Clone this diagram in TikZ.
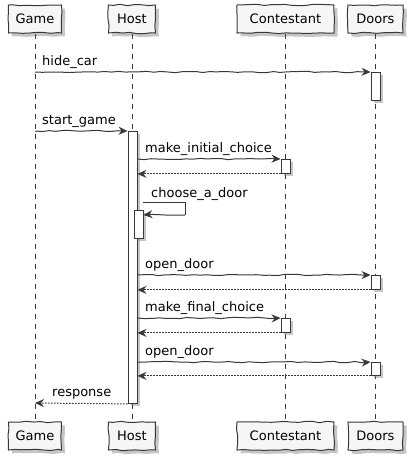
\documentclass[tikz,border=0pt]{standalone}
\usepackage{fontspec}
\setmainfont{DejaVu Sans}
\usetikzlibrary{arrows.meta,shadows,decorations.pathmorphing}
\definecolor{lc}{HTML}{383838}
\definecolor{boxfill}{HTML}{F6F6F6}
\pgfmathsetseed{7}
\begin{document}
\begin{tikzpicture}[x=1pt,y=-1pt,
  wob/.style={decorate, decoration={random steps, segment length=7pt, amplitude=0.7pt}},
  part/.style={draw=lc, fill=boxfill, line width=1pt, minimum height=28pt, inner sep=0pt,
    font=\fontsize{13}{15}\selectfont, wob,
    drop shadow={shadow xshift=3.5pt,shadow yshift=-3.5pt,opacity=0.45}},
  act/.style={draw=lc, fill=white, line width=0.9pt, minimum width=9pt, inner sep=0pt, anchor=north,
    drop shadow={shadow xshift=3pt,shadow yshift=-3pt,opacity=0.45}},
  life/.style={draw=lc, line width=0.8pt, dash pattern=on 5pt off 5pt},
  msg/.style={draw=lc, line width=1pt, wob, -{Stealth[length=9pt,width=8pt,inset=3pt]}},
  ret/.style={draw=lc, line width=1pt, dash pattern=on 1.5pt off 1.5pt, -{Stealth[length=9pt,width=8pt,inset=3pt]}},
  lbl/.style={font=\fontsize{13}{15}\selectfont, anchor=base west, inner sep=0pt, text=black}
]
\useasboundingbox (0,0) rectangle (415,464);

% participants
\node[part, minimum width=53] (gameT) at (35,19) {Game};
\node[part, minimum width=47] (hostT) at (132,19) {Host};
\node[part, minimum width=97] (contT) at (285.5,19) {Contestant};
\node[part, minimum width=55] (doorT) at (375.5,19) {Doors};
\node[part, minimum width=53] (gameB) at (35,436) {Game};
\node[part, minimum width=47] (hostB) at (132,436) {Host};
\node[part, minimum width=97] (contB) at (285.5,436) {Contestant};
\node[part, minimum width=55] (doorB) at (375.5,436) {Doors};

% lifelines
\draw[life] (gameT.south) -- (gameB.north);
\draw[life] (hostT.south) -- (hostB.north);
\draw[life] (contT.south) -- (contB.north);
\draw[life] (doorT.south) -- (doorB.north);

% activations
\node[act, minimum height=28] (da1) at (375.5,72) {};
\node[act, minimum height=272] (ha) at (132.5,131) {};
\node[act, minimum height=14] (ca1) at (285.5,159) {};
\node[act, minimum height=28] (ha2) at (138.5,210) {};
\node[act, minimum height=14] (da2) at (375.5,275) {};
\node[act, minimum height=14] (ca2) at (285.5,318) {};
\node[act, minimum height=13] (da3) at (375.5,362) {};

% free ends on lifelines
\coordinate (g1) at (35,72);
\coordinate (g2) at (35,131);
\coordinate (g3) at (35,403);
\coordinate (s1) at (185,202);
\coordinate (s2) at (185,215);

% messages
\draw[msg] (g1) -- (da1.north west);
\node[lbl] (l1) at (42,65) {hide\_car};

\draw[msg] (g2) -- (ha.north west);
\node[lbl] (l2) at (42,124) {start\_game};

\draw[msg] (ha.east |- ca1.north) -- (ca1.north west);
\node[lbl] (l3) at (145,152) {make\_initial\_choice};
\draw[ret] (ca1.south west) -- (ha.east |- ca1.south);

\draw[draw=lc, line width=1pt] (ha2.east |- s1) -- (s1) -- (s2);
\draw[msg] (s2) -- (ha2.east |- s2);
\node[lbl] (l4) at (151,197) {choose\_a\_door};

\draw[msg] (ha.east |- da2.north) -- (da2.north west);
\node[lbl] (l5) at (145,268) {open\_door};
\draw[ret] (da2.south west) -- (ha.east |- da2.south);

\draw[msg] (ha.east |- ca2.north) -- (ca2.north west);
\node[lbl] (l6) at (145,311) {make\_final\_choice};
\draw[ret] (ca2.south west) -- (ha.east |- ca2.south);

\draw[msg] (ha.east |- da3.north) -- (da3.north west);
\node[lbl] (l7) at (145,355) {open\_door};
\draw[ret] (da3.south west) -- (ha.east |- da3.south);

\draw[ret] (ha.south west) -- (g3);
\node[lbl] (l8) at (52,396) {response};
\end{tikzpicture}
\end{document}
